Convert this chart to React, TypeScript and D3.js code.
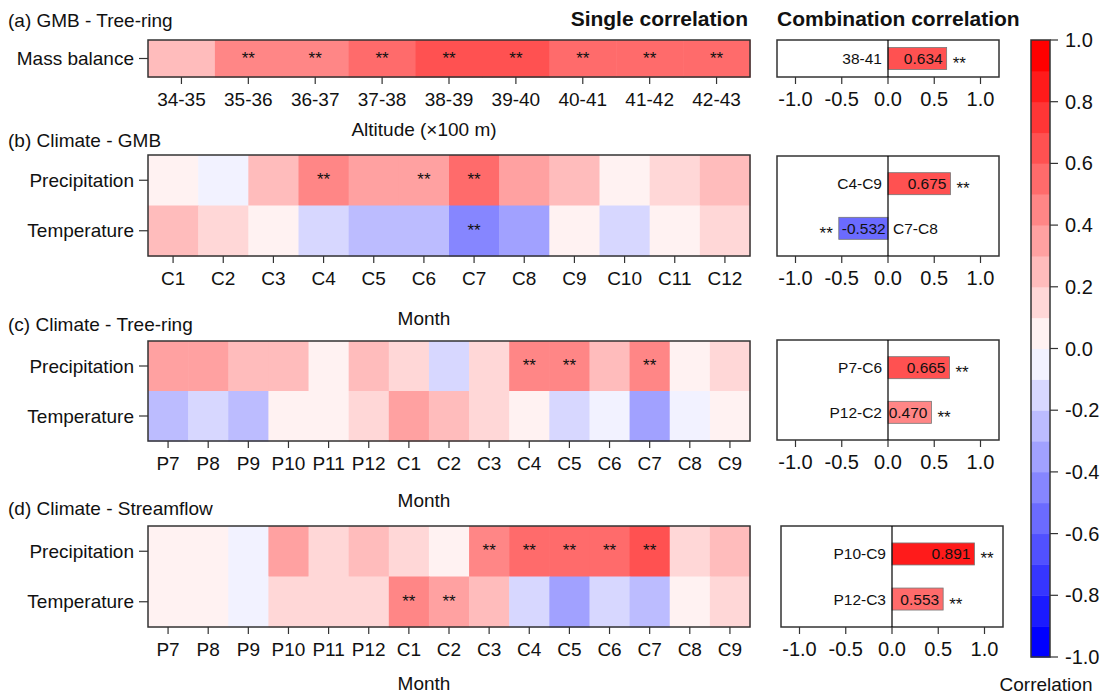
import React from "react";
import * as d3 from "d3";

// ---- data ----
const altitudeBins = ["34-35", "35-36", "36-37", "37-38", "38-39", "39-40", "40-41", "41-42", "42-43"];
const massBalance = [0.25, 0.45, 0.47, 0.55, 0.63, 0.62, 0.58, 0.56, 0.57];
const massBalanceSig = [false, true, true, true, true, true, true, true, true];

const monthsGMB = ["C1", "C2", "C3", "C4", "C5", "C6", "C7", "C8", "C9", "C10", "C11", "C12"];
const precipGMB = [0.05, -0.05, 0.25, 0.45, 0.35, 0.38, 0.55, 0.33, 0.25, 0.05, 0.15, 0.25];
const tempGMB = [0.25, 0.15, 0.05, -0.15, -0.25, -0.25, -0.45, -0.35, 0.05, -0.15, 0.05, 0.15];
const precipGMBSig = ["C4", "C6", "C7"];
const tempGMBSig = ["C7"];

const monthsPC = ["P7", "P8", "P9", "P10", "P11", "P12", "C1", "C2", "C3", "C4", "C5", "C6", "C7", "C8", "C9"];
const precipTree = [0.35, 0.34, 0.25, 0.24, 0.05, 0.27, 0.15, -0.15, 0.15, 0.45, 0.46, 0.26, 0.47, 0.05, 0.15];
const tempTree = [-0.25, -0.15, -0.25, 0.05, 0.05, 0.15, 0.35, 0.25, 0.15, 0.05, -0.15, -0.05, -0.35, -0.05, 0.05];
const precipTreeSig = ["C4", "C5", "C7"];
const tempTreeSig: string[] = [];

const precipFlow = [0.05, 0.05, -0.05, 0.35, 0.15, 0.25, 0.15, 0.05, 0.45, 0.55, 0.55, 0.55, 0.65, 0.15, 0.25];
const tempFlow = [0.05, 0.05, -0.05, 0.15, 0.15, 0.15, 0.45, 0.35, 0.25, -0.15, -0.35, -0.15, -0.25, 0.05, 0.15];
const precipFlowSig = ["C3", "C4", "C5", "C6", "C7"];
const tempFlowSig = ["C1", "C2"];

const comboA = ["38-41"];
const comboAValues = [0.634];
const comboB = ["C4-C9", "C7-C8"];
const comboBValues = [0.675, -0.532];
const comboC = ["P7-C6", "P12-C2"];
const comboCValues = [0.665, 0.47];
const comboD = ["P10-C9", "P12-C3"];
const comboDValues = [0.891, 0.553];

const barTicks = [-1, -0.5, 0, 0.5, 1];
const colorTicks = [1, 0.8, 0.6, 0.4, 0.2, 0, -0.2, -0.4, -0.6, -0.8, -1];

const FONT = "'Liberation Sans', Arial, sans-serif";
const EDGE = "#333";

// plain hyphen for minus signs, like the original
const fmt = (spec: string) => {
  const f = d3.format(spec);
  return (v: number) => f(v).replace("\u2212", "-");
};
const fmt1 = fmt(".1f");
const fmt3 = fmt(".3f");

// 20 discrete bins, blue - white - red
const ramp = d3.piecewise(d3.interpolateRgb, ["#0000ff", "#ffffff", "#ff0000"]);
const palette = d3.range(20).map(i => d3.color(ramp(i / 19))!.formatHex());
const colour = d3.scaleQuantize<string>().domain([-1, 1]).range(palette);

type HeatProps = {
  title: string; titleY: number;
  cats: string[]; rows: string[]; values: number[][]; sig: (boolean | string)[][];
  top: number; bottom: number; xTitle: string; xTitleY: number;
};

function Heatmap({ title, titleY, cats, rows, values, sig, top, bottom, xTitle, xTitleY }: HeatProps) {
  const x = d3.scaleBand().domain(cats).range([148, 750]);
  const y = d3.scaleBand().domain(rows).range([top, bottom]);
  const bw = x.bandwidth();
  const bh = y.bandwidth();
  return (
    <g>
      <text x={8} y={titleY} fontSize={19}>{title}</text>
      {rows.map((r, ri) => cats.map((c, ci) => (
        <rect key={r + c} x={x(c)!} y={y(r)!} width={bw + 0.6} height={bh + 0.6}
          fill={colour(values[ri][ci])} />
      )))}
      {rows.map((r, ri) => cats.map((c, ci) => {
        const s = sig[ri];
        const on = typeof s[0] === "boolean" ? s[ci] : (s as string[]).includes(c);
        return on ? (
          <text key={"s" + r + c} x={x(c)! + bw / 2} y={y(r)! + bh / 2 + 5}
            textAnchor="middle" fontSize={17}>**</text>
        ) : null;
      }))}
      <rect x={148} y={top} width={602} height={bottom - top} fill="none" stroke={EDGE} strokeWidth={1.5} />
      {cats.map(c => (
        <g key={"t" + c}>
          <line x1={x(c)! + bw / 2} x2={x(c)! + bw / 2} y1={bottom} y2={bottom + 7} stroke={EDGE} strokeWidth={1.2} />
          <text x={x(c)! + bw / 2} y={bottom + 22} textAnchor="middle" dominantBaseline="central" fontSize={19}>{c}</text>
        </g>
      ))}
      {rows.map(r => (
        <g key={"r" + r}>
          <line x1={139} x2={148} y1={y(r)! + bh / 2} y2={y(r)! + bh / 2} stroke={EDGE} strokeWidth={1.2} />
          <text x={134} y={y(r)! + bh / 2} textAnchor="end" dominantBaseline="central" fontSize={19}>{r}</text>
        </g>
      ))}
      <text x={424} y={xTitleY} textAnchor="middle" dominantBaseline="central" fontSize={19}>{xTitle}</text>
    </g>
  );
}

type BarProps = { labels: string[]; values: number[]; top: number; bottom: number; left: number };

function BarPanel({ labels, values, top, bottom, left }: BarProps) {
  const x = d3.scaleLinear().domain([-1.2, 1.2]).range([left, left + 222]);
  const y = d3.scalePoint().domain(labels).range([top, bottom]).padding(labels.length > 1 ? 0.62 : 0.5);
  const x0 = x(0);
  return (
    <g>
      <rect x={left} y={top} width={222} height={bottom - top} fill="#fff" stroke={EDGE} strokeWidth={1.5} />
      {labels.map((l, i) => {
        const v = values[i];
        const cy = y(l)!;
        const xv = x(v);
        const pos = v >= 0;
        return (
          <g key={l}>
            <rect x={Math.min(x0, xv)} y={cy - 11} width={Math.abs(xv - x0)} height={22}
              fill={colour(v)} stroke="#777" strokeWidth={0.8} />
            <text x={pos ? xv - 4 : xv + 3} y={cy + 5.5} textAnchor={pos ? "end" : "start"} fontSize={15.5}>
              {fmt3(v)}
            </text>
            <text x={pos ? x0 - 6 : x0 + 5} y={cy + 5.5} textAnchor={pos ? "end" : "start"} fontSize={15.5}>{l}</text>
            <text x={pos ? xv + 6 : xv - 6} y={cy + 10.5} textAnchor={pos ? "start" : "end"} fontSize={17}>**</text>
          </g>
        );
      })}
      <line x1={x0} x2={x0} y1={top} y2={bottom} stroke="#000" strokeWidth={1.2} />
      {barTicks.map(t => (
        <g key={t}>
          <line x1={x(t)} x2={x(t)} y1={bottom} y2={bottom + 7} stroke={EDGE} strokeWidth={1.2} />
          <text x={x(t)} y={bottom + 22} textAnchor="middle" dominantBaseline="central" fontSize={20}>
            {fmt1(t)}
          </text>
        </g>
      ))}
    </g>
  );
}

function ColorBar() {
  const y = d3.scaleLinear().domain([-1, 1]).range([657, 40]);
  const bins = d3.range(20).map(i => -1 + i * 0.1);
  return (
    <g>
      {bins.map((b, i) => (
        <rect key={i} x={1031} y={y(b + 0.1)} width={19} height={y(b) - y(b + 0.1) + 0.5} fill={palette[i]} />
      ))}
      <rect x={1031} y={40} width={19} height={617} fill="none" stroke={EDGE} strokeWidth={1.5} />
      {colorTicks.map(t => (
        <g key={t}>
          <line x1={1050} x2={1058} y1={y(t)} y2={y(t)} stroke={EDGE} strokeWidth={1.2} />
          <text x={1065} y={y(t)} dominantBaseline="central" fontSize={20}>{fmt1(t)}</text>
        </g>
      ))}
      <text x={1046} y={691} textAnchor="middle" fontSize={19}>Correlation</text>
    </g>
  );
}

export default function App() {
  return (
    <svg width={1108} height={695} style={{ position: "absolute", left: 0, top: 0, background: "#fff" }}
      fontFamily={FONT} fill="#111">
      <text x={748} y={26} textAnchor="end" fontSize={21} fontWeight="bold">Single correlation</text>
      <text x={777} y={26} fontSize={21} fontWeight="bold">Combination correlation</text>

      <Heatmap title="(a) GMB - Tree-ring" titleY={27} cats={altitudeBins} rows={["Mass balance"]}
        values={[massBalance]} sig={[massBalanceSig]} top={40} bottom={77}
        xTitle="Altitude (×100 m)" xTitleY={129} />
      <Heatmap title="(b) Climate - GMB" titleY={147} cats={monthsGMB} rows={["Precipitation", "Temperature"]}
        values={[precipGMB, tempGMB]} sig={[precipGMBSig, tempGMBSig]} top={155} bottom={256}
        xTitle="Month" xTitleY={318} />
      <Heatmap title="(c) Climate - Tree-ring" titleY={331} cats={monthsPC} rows={["Precipitation", "Temperature"]}
        values={[precipTree, tempTree]} sig={[precipTreeSig, tempTreeSig]} top={341} bottom={441}
        xTitle="Month" xTitleY={500} />
      <Heatmap title="(d) Climate - Streamflow" titleY={515} cats={monthsPC} rows={["Precipitation", "Temperature"]}
        values={[precipFlow, tempFlow]} sig={[precipFlowSig, tempFlowSig]} top={526} bottom={627}
        xTitle="Month" xTitleY={683} />

      <BarPanel labels={comboA} values={comboAValues} top={40} bottom={77} left={777} />
      <BarPanel labels={comboB} values={comboBValues} top={156} bottom={256} left={777} />
      <BarPanel labels={comboC} values={comboCValues} top={340} bottom={440} left={777} />
      <BarPanel labels={comboD} values={comboDValues} top={526} bottom={627} left={781} />

      <ColorBar />
    </svg>
  );
}
